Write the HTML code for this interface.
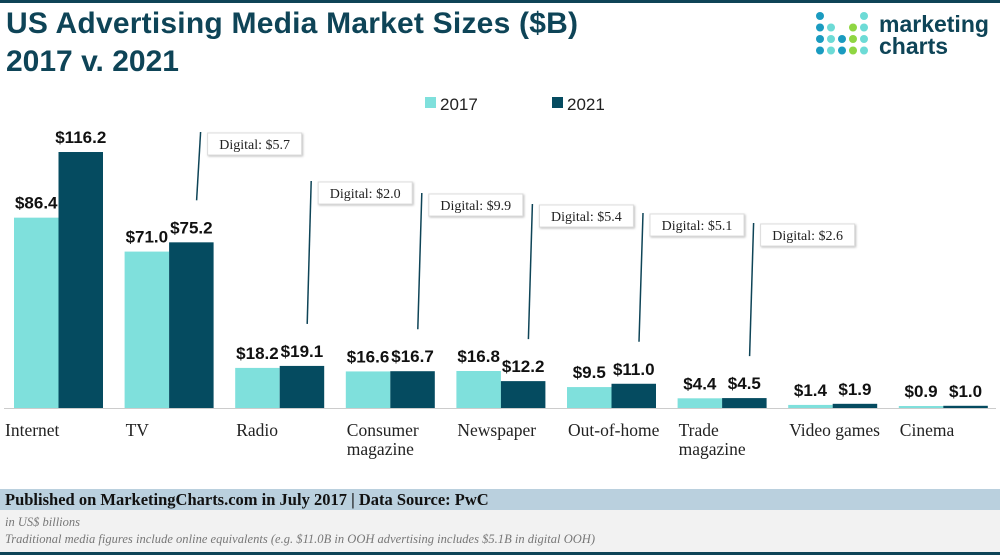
<!DOCTYPE html>
<html><head><meta charset="utf-8"><style>
body{margin:0;width:1000px;height:555px;overflow:hidden;background:#fff;font-family:"Liberation Sans",sans-serif}
</style></head><body>
<svg width="1000" height="555" xmlns="http://www.w3.org/2000/svg">
<rect x="0" y="0" width="1000" height="3" fill="#0e4457"/>
<text x="6" y="33" font-size="30" font-weight="bold" fill="#0e4457" textLength="572">US Advertising Media Market Sizes ($B)</text>
<text x="6" y="71" font-size="30" font-weight="bold" fill="#0e4457">2017 v. 2021</text>
<g id="logo"></g>
<text x="879" y="32" font-size="23" font-weight="bold" fill="#0e4457">marketing</text>
<text x="879" y="54" font-size="23" font-weight="bold" fill="#0e4457">charts</text>
<g>
<rect x="425" y="97" width="11" height="11" fill="#7fe0dc"/>
<text x="440" y="110" font-size="17" fill="#222">2017</text>
<rect x="552" y="97" width="11" height="11" fill="#054b60"/>
<text x="567" y="110" font-size="17" fill="#222">2021</text>
</g>
<g id="plot"></g>
<line x1="4" y1="408.5" x2="996" y2="408.5" stroke="#ccc"/>
<rect x="0" y="489" width="1000" height="21" fill="#bad0de"/>
<text x="5" y="505" font-size="16.5" font-weight="bold" font-family="Liberation Serif,serif" fill="#111">Published on MarketingCharts.com in July 2017 | Data Source: PwC</text>
<rect x="0" y="510" width="1000" height="42" fill="#f2f2f2"/>
<text x="5" y="526" font-size="12.5" font-style="italic" font-family="Liberation Serif,serif" fill="#777">in US$ billions</text>
<text x="5" y="543" font-size="12.5" font-style="italic" font-family="Liberation Serif,serif" fill="#777" textLength="590">Traditional media figures include online equivalents (e.g. $11.0B in OOH advertising includes $5.1B in digital OOH)</text>
<rect x="0" y="552" width="1000" height="3" fill="#0e4457"/>
</svg>
<script>
const categories=[["Internet"],["TV"],["Radio"],["Consumer","magazine"],["Newspaper"],["Out-of-home"],["Trade","magazine"],["Video games"],["Cinema"]];
const values2017=[86.4,71.0,18.2,16.6,16.8,9.5,4.4,1.4,0.9];
const values2021=[116.2,75.2,19.1,16.7,12.2,11.0,4.5,1.9,1.0];
const digitalValues=[5.7,2.0,9.9,5.4,5.1,2.6];
const NS="http://www.w3.org/2000/svg";
const plot=document.getElementById('plot');
const base=408,k=2.203,x0=14,step=110.6,bw=44.5;
const y=v=>base-v*k;
const xg=i=>x0+i*step;
function mk(t,a,p){const e=document.createElementNS(NS,t);for(const q in a)e.setAttribute(q,a[q]);(p||plot).appendChild(e);return e;}
categories.forEach((c,i)=>{
  const g=xg(i);
  const b1=mk('rect',{x:g,y:y(values2017[i]),width:bw,height:values2017[i]*k,fill:'#7fe0dc'});
  
  
  const b2=mk('rect',{x:g+bw,y:y(values2021[i]),width:bw,height:values2021[i]*k,fill:'#054b60'});
  
  
  const t1=mk('text',{x:g+bw/2,y:y(values2017[i])-9,'font-size':17,'font-weight':'bold','text-anchor':'middle',fill:'#111'});
  t1.textContent='$'+values2017[i].toFixed(1);
  
  
  const t2=mk('text',{x:g+bw*1.5,y:y(values2021[i])-9,'font-size':17,'font-weight':'bold','text-anchor':'middle',fill:'#111'});
  t2.textContent='$'+values2021[i].toFixed(1);
  
  
  c.forEach((ln,j)=>{
    const l=mk('text',{x:(i==0?5:g+1),y:436+j*19,'font-size':17.5,'font-family':'Liberation Serif,serif',fill:'#222'});
    l.textContent=ln;
    
    
  });
});
const dtops=[132,181,193,204,213,223];
digitalValues.forEach((d,n)=>{
  const i=n+1,g=xg(i),bx=g+83,top=dtops[n];
  const ln=mk('line',{x1:bx-7,y1:top,x2:bx-11,y2:y(values2021[i])-42,stroke:'#0e4457','stroke-width':1.5});
  
  
  const r=mk('rect',{x:bx,y:top+1,width:94,height:22,fill:'#fff',stroke:'#ddd',style:'filter:drop-shadow(1px 1px 1px rgba(0,0,0,.25))'});
  
  
  const t=mk('text',{x:bx+47,y:top+17,'font-size':14,'font-family':'Liberation Serif,serif','text-anchor':'middle',fill:'#222'});
  t.textContent='Digital: $'+d.toFixed(1);
  
  
});
const logo=document.getElementById('logo');
const cols=[["#1a9bc0","#1a9bc0","#1a9bc0","#1a9bc0"],[null,"#6ddbd6","#6ddbd6","#6ddbd6"],[null,null,"#1a9bc0","#1a9bc0"],[null,"#8fd642","#8fd642","#8fd642"],["#6ddbd6","#6ddbd6","#6ddbd6","#6ddbd6"]];
cols.forEach((col,ci)=>col.forEach((cc,ri)=>{if(cc){const d=mk('circle',{cx:820+ci*11,cy:16+ri*11.5,r:4,fill:cc},logo);}}));
</script>
</body></html>
